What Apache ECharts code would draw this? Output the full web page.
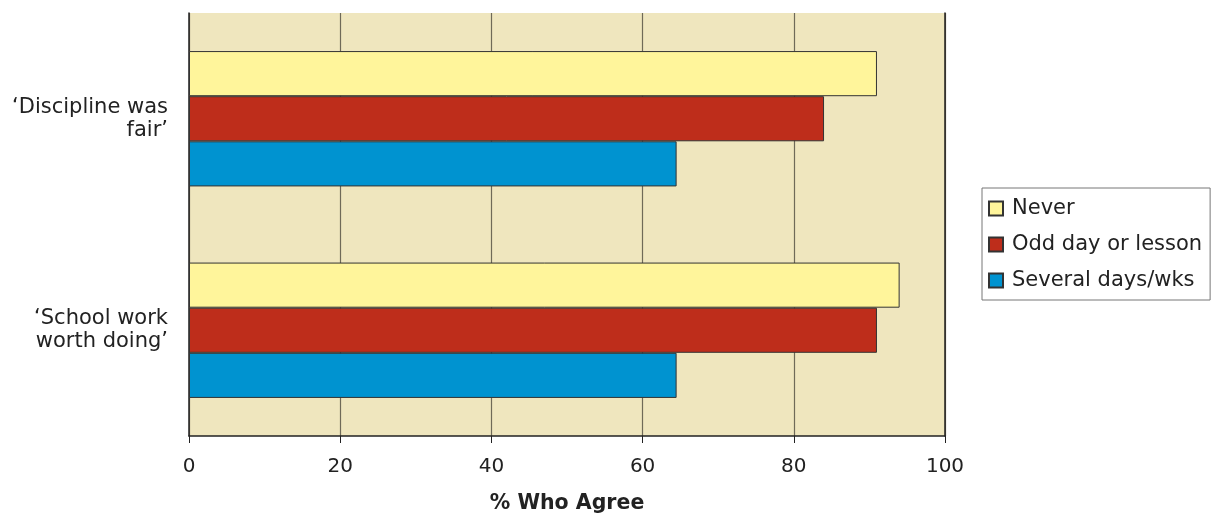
<!DOCTYPE html>
<html>
<head>
<meta charset="utf-8">
<script src="https://cdn.jsdelivr.net/npm/echarts@6/dist/echarts.min.js"></script>
<style>
  html, body { margin: 0; padding: 0; background: #ffffff; }
  #chart { width: 1214px; height: 515px; }
</style>
</head>
<body>
<div id="chart"></div>
<script>
// Statements, listed top to bottom
const categories = ['\u2018Discipline was\nfair\u2019', '\u2018School work\nworth doing\u2019'];

// Share agreeing (%), by how often the pupil truanted
const seriesNames = ['Never', 'Odd day or lesson', 'Several days/wks'];
const never = [91, 94];
const oddDay = [84, 91];
const severalDays = [64.5, 64.5];

const xTicks = { min: 0, max: 100, interval: 20 };

const colors = ['#FFF59B', '#BE2D1B', '#0093D0'];
const values = [never, oddDay, severalDays];
const font = 'DejaVu Sans, Verdana, sans-serif';

const chart = echarts.init(document.getElementById('chart'));
chart.setOption({
  animation: false,
  textStyle: { fontFamily: font, color: '#222' },
  grid: {
    left: 189, right: 269, top: 13, bottom: 79,
    outerBoundsMode: 'none',
    containLabel: false,
    show: true, backgroundColor: '#EFE6BE', borderWidth: 0
  },
  legend: {
    orient: 'vertical',
    left: 982, top: 188,
    padding: [10, 8, 9, 6],
    itemGap: 15,
    itemWidth: 14, itemHeight: 14,
    borderColor: '#777', borderWidth: 1,
    icon: 'rect',
    textStyle: { fontFamily: font, fontSize: 21, color: '#222', padding: [0, 0, 0, 4] },
    data: seriesNames
  },
  xAxis: {
    type: 'value',
    min: xTicks.min, max: xTicks.max, interval: xTicks.interval,
    name: '% Who Agree',
    nameLocation: 'middle',
    nameGap: 57,
    nameTextStyle: { fontFamily: font, fontSize: 20.5, fontWeight: 'bold', color: '#222' },
    axisLine: { show: true, lineStyle: { color: '#222', width: 1.5 } },
    axisTick: { show: true, length: 7, lineStyle: { color: '#222' } },
    axisLabel: { fontFamily: font, fontSize: 20, color: '#222', margin: 21 },
    splitLine: { show: true, lineStyle: { color: '#6f6a58', width: 1.2 } }
  },
  yAxis: [
    {
      type: 'category',
      inverse: true,
      data: categories,
      axisLine: { show: true, lineStyle: { color: '#222', width: 1.5 } },
      axisTick: { show: false },
      axisLabel: {
        fontFamily: font, fontSize: 21, color: '#222', margin: 21,
        align: 'right', lineHeight: 23, padding: [8, 0, 0, 0]
      },
      splitLine: { show: false }
    },
    {
      type: 'category',
      inverse: true,
      position: 'right',
      data: categories,
      axisLine: { show: true, lineStyle: { color: '#222', width: 1.5 } },
      axisTick: { show: false },
      axisLabel: { show: false },
      splitLine: { show: false }
    }
  ],
  series: seriesNames.map((name, k) => ({
    name,
    type: 'bar',
    data: values[k],
    barGap: '0%',
    barCategoryGap: '36%',
    itemStyle: { color: colors[k], borderColor: '#333', borderWidth: 1 }
  }))
});
</script>
</body>
</html>
